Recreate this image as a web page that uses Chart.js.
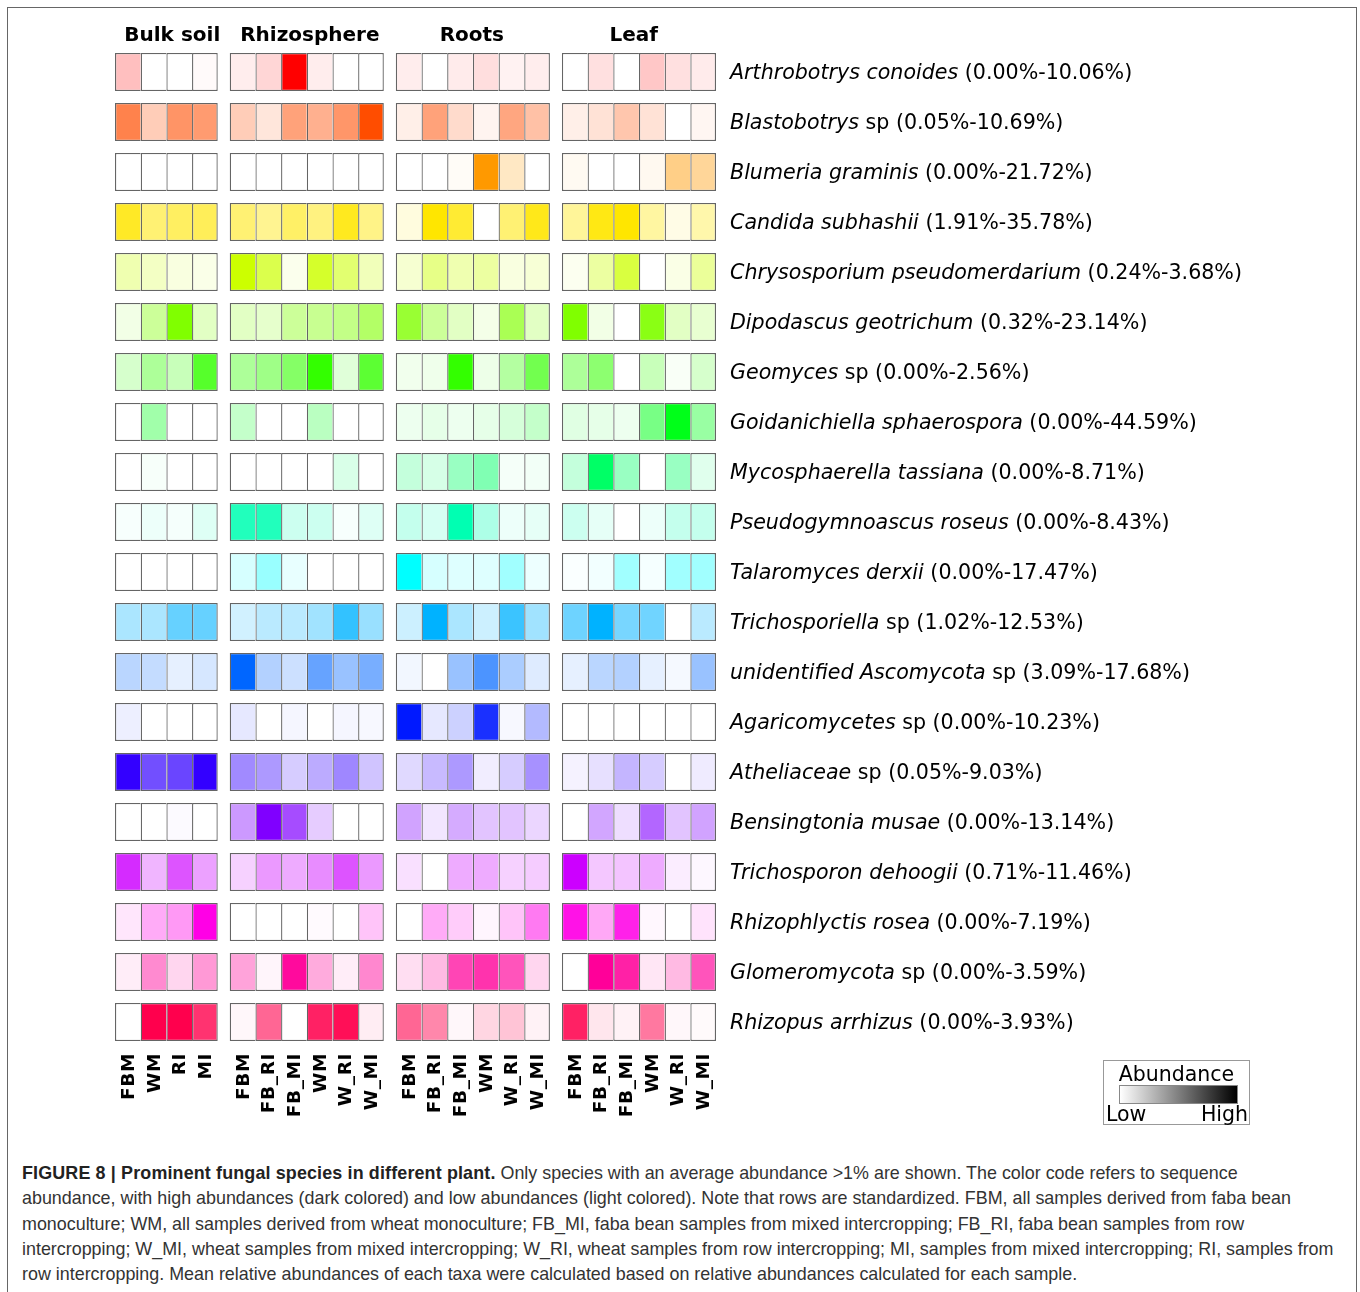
<!DOCTYPE html>
<html>
<head>
<meta charset="utf-8">
<script src="https://cdn.jsdelivr.net/npm/chart.js@4.4.1/dist/chart.umd.min.js"></script>
<style>
  html, body { margin: 0; padding: 0; background: #fff; }
  body { width: 1360px; height: 1292px; position: relative; overflow: hidden; }
  #frame { position: absolute; left: 7px; top: 7px; width: 1348px; height: 1300px;
           border: 1.5px solid #666; border-bottom: none; }
  #heat { position: absolute; left: 0; top: 0; }
  #labels { position: absolute; left: 0; top: 0; width: 1360px; height: 1140px; }
  .hdr { position: absolute; font: bold 20px "DejaVu Sans"; color: #000; white-space: nowrap;
         transform: translateX(-50%); line-height: 24px; }
  .row { position: absolute; font: 20.6px "DejaVu Sans"; color: #000; white-space: nowrap; line-height: 24px; }
  .row i { font-style: italic; }
  .col { position: absolute; font: bold 18.5px "DejaVu Sans"; letter-spacing: 0.6px; color: #000; white-space: nowrap;
         line-height: 20px; transform-origin: 0 0; transform: rotate(-90deg) translate(-100%, -50%); }
  #legend { position: absolute; left: 1103px; top: 1060px; width: 147px; height: 65px;
            border: 1px solid #999; box-sizing: border-box; font: 20.5px "DejaVu Sans"; color: #000; }
  #legend .t { position: absolute; left: 0; width: 100%; top: 1px; text-align: center; line-height: 24px; }
  #legend .bar { position: absolute; left: 15px; top: 24px; width: 117px; height: 17px;
                 border: 1px solid #888; background: linear-gradient(to right, #fff, #000); }
  #legend .lo { position: absolute; left: 2px; top: 41px; line-height: 24px; }
  #legend .hi { position: absolute; right: 1px; top: 41px; line-height: 24px; }
  #caption { position: absolute; left: 22px; top: 1161px; font: 17.9px "Liberation Sans"; color: #333;
             line-height: 25.3px; white-space: nowrap; }
  #caption b { color: #222; letter-spacing: 0.15px; }
</style>
</head>
<body>
<div id="frame"></div>
<canvas id="heat" width="1360" height="1140"></canvas>
<div id="labels"></div>
<div id="legend">
  <div class="t">Abundance</div>
  <div class="bar"></div>
  <div class="lo">Low</div>
  <div class="hi">High</div>
</div>
<div id="caption">
<b>FIGURE 8 | Prominent fungal species in different plant.</b> Only species with an average abundance &gt;1% are shown. The color code refers to sequence<br>
abundance, with high abundances (dark colored) and low abundances (light colored). Note that rows are standardized. FBM, all samples derived from faba bean<br>
monoculture; WM, all samples derived from wheat monoculture; FB_MI, faba bean samples from mixed intercropping; FB_RI, faba bean samples from row<br>
intercropping; W_MI, wheat samples from mixed intercropping; W_RI, wheat samples from row intercropping; MI, samples from mixed intercropping; RI, samples from<br>
row intercropping. Mean relative abundances of each taxa were calculated based on relative abundances calculated for each sample.
</div>
<script>
// groups of samples and their columns
var groups = ['Bulk soil', 'Rhizosphere', 'Roots', 'Leaf'];
var groupColumns = [
  ['FBM', 'WM', 'RI', 'MI'],
  ['FBM', 'FB_RI', 'FB_MI', 'WM', 'W_RI', 'W_MI'],
  ['FBM', 'FB_RI', 'FB_MI', 'WM', 'W_RI', 'W_MI'],
  ['FBM', 'FB_RI', 'FB_MI', 'WM', 'W_RI', 'W_MI']
];
// small nudge of the group titles, in column units
var headerShift = [0.23, 0.12, -0.04, -0.2];

var species = [
  'Arthrobotrys conoides', 'Blastobotrys', 'Blumeria graminis', 'Candida subhashii',
  'Chrysosporium pseudomerdarium', 'Dipodascus geotrichum', 'Geomyces', 'Goidanichiella sphaerospora',
  'Mycosphaerella tassiana', 'Pseudogymnoascus roseus', 'Talaromyces derxii', 'Trichosporiella',
  'unidentified Ascomycota', 'Agaricomycetes', 'Atheliaceae', 'Bensingtonia musae',
  'Trichosporon dehoogii', 'Rhizophlyctis rosea', 'Glomeromycota', 'Rhizopus arrhizus'
];
var suffix = ['', ' sp', '', '', '', '', ' sp', '', '', '', '', ' sp', ' sp', ' sp', ' sp', '', '', '', ' sp', ''];
var ranges = [
  '0.00%-10.06%', '0.05%-10.69%', '0.00%-21.72%', '1.91%-35.78%', '0.24%-3.68%',
  '0.32%-23.14%', '0.00%-2.56%', '0.00%-44.59%', '0.00%-8.71%', '0.00%-8.43%',
  '0.00%-17.47%', '1.02%-12.53%', '3.09%-17.68%', '0.00%-10.23%', '0.05%-9.03%',
  '0.00%-13.14%', '0.71%-11.46%', '0.00%-7.19%', '0.00%-3.59%', '0.00%-3.93%'
];

// row-standardized abundance (0 = lowest, 1 = highest), 22 columns per row
var abundance = [
  [0.25,0,0,0.02, 0.07,0.16,1,0.07,0,0, 0.07,0,0.08,0.13,0.05,0.07, 0,0.12,0,0.22,0.12,0.08],
  [0.70,0.28,0.60,0.56, 0.28,0.14,0.52,0.44,0.59,1, 0.09,0.52,0.20,0.06,0.50,0.35, 0.09,0.16,0.32,0.16,0,0.05],
  [0,0,0,0, 0,0,0,0,0,0, 0,0,0.03,1,0.23,0, 0.05,0,0,0.06,0.47,0.40],
  [0.85,0.55,0.62,0.65, 0.55,0.43,0.60,0.50,0.88,0.47, 0.13,1,0.80,0,0.55,0.90, 0.40,0.92,1,0.37,0.10,0.33],
  [0.31,0.23,0.12,0.09, 1,0.70,0.07,0.83,0.56,0.27, 0.18,0.47,0.31,0.37,0.12,0.16, 0.06,0.37,0.75,0,0.10,0.40],
  [0.10,0.40,1,0.23, 0.23,0.20,0.40,0.43,0.47,0.60, 0.80,0.40,0.23,0.09,0.67,0.23, 1,0.10,0,0.92,0.23,0.18],
  [0.20,0.40,0.27,0.83, 0.40,0.47,0.60,1,0.15,0.80, 0.07,0.08,1,0.09,0.37,0.69, 0.40,0.56,0,0.27,0.03,0.20],
  [0,0.37,0,0, 0.23,0,0,0.27,0,0, 0.07,0.10,0.07,0.10,0.16,0.23, 0.12,0.10,0.07,0.53,1,0.40],
  [0,0.03,0,0, 0,0,0,0,0.15,0, 0.23,0.16,0.40,0.50,0.04,0.05, 0.23,1,0.40,0,0.40,0.12],
  [0.03,0.07,0.04,0.13, 0.87,0.87,0.20,0.20,0.03,0.13, 0.23,0.16,1,0.32,0.07,0.10, 0.20,0.10,0,0.07,0.23,0.23],
  [0,0,0,0, 0.16,0.40,0.09,0,0,0, 1,0.16,0.13,0.13,0.37,0.07, 0.02,0.05,0.37,0.04,0.37,0.37],
  [0.33,0.33,0.60,0.60, 0.18,0.27,0.27,0.37,0.80,0.40, 0.20,1,0.33,0.20,0.77,0.37, 0.57,1,0.53,0.56,0,0.27],
  [0.27,0.23,0.10,0.16, 1,0.30,0.20,0.60,0.40,0.53, 0.05,0,0.40,0.70,0.33,0.13, 0.10,0.27,0.30,0.10,0.04,0.40],
  [0.07,0,0,0, 0.10,0,0.04,0,0.04,0.03, 1,0.10,0.20,0.90,0.03,0.30, 0,0,0,0,0,0],
  [1,0.69,0.73,1, 0.46,0.40,0.20,0.33,0.47,0.23, 0.15,0.27,0.40,0.07,0.20,0.43, 0.05,0.12,0.29,0.20,0,0.08],
  [0,0,0.02,0, 0.40,1,0.70,0.20,0,0, 0.36,0.10,0.33,0.23,0.23,0.16, 0,0.35,0.13,0.60,0.23,0.36],
  [0.83,0.29,0.67,0.37, 0.18,0.40,0.33,0.45,0.67,0.40, 0.12,0,0.33,0.33,0.18,0.20, 1,0.22,0.23,0.33,0.07,0.03],
  [0.10,0.33,0.40,1, 0,0,0,0.02,0,0.23, 0,0.33,0.20,0.04,0.23,0.52, 0.93,0.34,0.87,0.03,0,0.11],
  [0.07,0.46,0.16,0.40, 0.36,0.04,0.96,0.33,0.07,0.47, 0.13,0.27,0.73,0.80,0.67,0.16, 0,1,0.87,0.10,0.27,0.67],
  [0,1,1,0.80, 0.03,0.60,0,0.87,0.94,0.07, 0.60,0.47,0.03,0.16,0.23,0.05, 0.87,0.10,0.05,0.53,0.03,0.02]
];

// each row gets its own hue, rainbow from red downwards
var hueStep = 18;
var groupGap = 0.467;

function cellColor(row, v) {
  return 'hsl(' + (row * hueStep) + ', 100%, ' + (100 - 50 * v) + '%)';
}

// x start of every column, with a gap between the groups
var colPos = [], colNames = [], colLast = [], groupStart = [];
var pos = 0;
groupColumns.forEach(function (cols) {
  groupStart.push(pos);
  cols.forEach(function (c, k) {
    colPos.push(pos);
    colNames.push(c);
    colLast.push(k == cols.length - 1);
    pos += 1;
  });
  pos += groupGap;
});
var xMax = pos - groupGap;

var datasets = colPos.map(function (x0, j) {
  return {
    label: colNames[j],
    data: species.map(function () { return [x0, x0 + 1]; }),
    backgroundColor: abundance.map(function (r, i) { return cellColor(i, r[j]); }),
    borderColor: '#656565',
    borderWidth: { left: 1.3, top: 1.3, bottom: 1.3, right: colLast[j] ? 1.3 : 0 },
    borderSkipped: false
  };
});

var ctx = document.getElementById('heat').getContext('2d');
var chart = new Chart(ctx, {
  type: 'bar',
  data: { labels: species, datasets: datasets },
  options: {
    indexAxis: 'y',
    responsive: false,
    animation: false,
    grouped: false,
    categoryPercentage: 1,
    barPercentage: 0.76,
    layout: { padding: { left: 115, right: 644, top: 47, bottom: 93 } },
    scales: {
      x: { type: 'linear', min: 0, max: xMax, display: false },
      y: { type: 'category', display: false, offset: true }
    },
    plugins: { legend: { display: false }, tooltip: { enabled: false } }
  }
});

// text around the cells, placed from the chart scales
var box = document.getElementById('labels');
var xs = chart.scales.x, ys = chart.scales.y;

function addDiv(cls, html, left, top) {
  var d = document.createElement('div');
  d.className = cls;
  d.innerHTML = html;
  d.style.left = left + 'px';
  d.style.top = top + 'px';
  box.appendChild(d);
  return d;
}

groups.forEach(function (g, k) {
  var cx = xs.getPixelForValue(groupStart[k] + groupColumns[k].length / 2 + headerShift[k]);
  addDiv('hdr', g, cx, 22);
});

species.forEach(function (s, i) {
  var cy = ys.getPixelForValue(i);
  addDiv('row', '<i>' + s + '</i>' + suffix[i] + ' (' + ranges[i] + ')', xs.right + 14, cy - 12);
});

colNames.forEach(function (c, j) {
  var cx = xs.getPixelForValue(colPos[j] + 0.5);
  addDiv('col', c, cx, ys.bottom + 6);
});
</script>
</body>
</html>
